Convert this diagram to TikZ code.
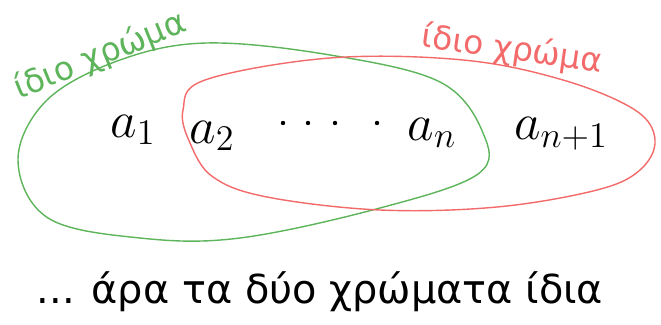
\RequirePackage{fix-cm}
\documentclass[tikz,border=0pt]{standalone}
\usepackage{fontspec}
\setmainfont{DejaVu Sans}
\usepackage{tikz}
\usetikzlibrary{positioning}
\definecolor{sgreen}{HTML}{5DB45A}
\definecolor{sred}{HTML}{F26A6A}

\begin{document}
\begin{tikzpicture}[
  x=0.015cm, y=-0.015cm,
  term/.style={font=\fontsize{22}{24}\selectfont, inner sep=0pt},
  tag/.style={font=\fontsize{14}{16}\selectfont, text=#1, inner sep=0pt},
  blob/.style={draw=#1, line width=0.6pt},
]
  \useasboundingbox (0,0) rectangle (661,325);

  % the two sets
  \draw[blob=sgreen] plot[smooth cycle, tension=0.6] coordinates {
    (207,43) (330,55) (440,82) (483,133) (478,174) (380,208)
    (240,238) (140,238) (48,218) (18,160) (47,100) (120,60)};
  \draw[blob=sred] plot[smooth cycle, tension=0.6] coordinates {
    (330,58) (463,60) (563,80) (635,110) (655,140) (640,170)
    (597,190) (497,207) (380,210) (267,197) (213,177) (190,143)
    (183,110) (205,80)};

  % labels of the sets
  \node[tag=sgreen, rotate=22] (greentag) at (100,56) {ίδιο χρώμα};
  \node[tag=sred, rotate=-8] (redtag) at (512,50) {ίδιο χρώμα};

  % the elements
  \node[term] (a1) at (133,130) {$a_1$};
  \node[term] (a2) at (212,136) {$a_2$};
  \node[term] (an) at (432,133) {$a_n$};
  \node[term] (an1) at (561,134) {$a_{n+1}$};
  \foreach \x in {283,308,335,377}
    \fill (\x,123) circle (2.2);

  \node[font=\fontsize{17}{19}\selectfont, anchor=base] (concl) at (320,303)
    {... άρα τα δύο χρώματα ίδια};
\end{tikzpicture}
\end{document}
